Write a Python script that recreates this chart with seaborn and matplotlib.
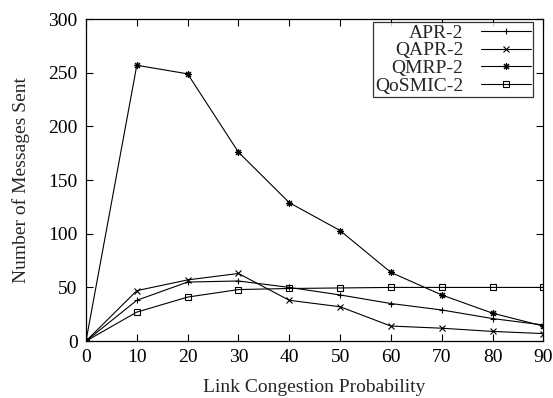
import pandas as pd
import numpy as np
import seaborn as sns
import matplotlib.pyplot as plt

# values
prob = [0, 10, 20, 30, 40, 50, 60, 70, 80, 90]
apr2 = [0, 38, 55, 56, 50, 43, 35, 29, 21, 15]
qapr2 = [0, 47, 57, 63, 38, 32, 14, 12, 9, 7]
qmrp2 = [0, 257, 249, 176, 129, 103, 64, 43, 26, 14]
qosmic2 = [0, 27, 41, 48, 49, 49.5, 50, 50, 50, 50]

names = ['APR-2', 'QAPR-2', 'QMRP-2', 'QoSMIC-2']
series = [apr2, qapr2, qmrp2, qosmic2]
markers = ['+', 'x', (8, 2, 0), 's']
msizes = [5, 4.5, 5, 4]

sns.set_style('ticks')
plt.rcParams['font.family'] = ['Liberation Serif', 'DejaVu Serif']
fs = 14

fig = plt.figure(figsize=(5.53, 3.98), dpi=100)
ax = fig.add_axes([0.1555, 0.143, 0.827, 0.809])

for name, vals, m, ms in zip(names, series, markers, msizes):
    df = pd.DataFrame({'prob': prob, 'msgs': vals})
    sns.lineplot(data=df, x='prob', y='msgs', ax=ax, color='black', lw=0.8,
                 marker=m, markersize=ms, markerfacecolor='none',
                 markeredgecolor='black', markeredgewidth=0.8, label=name)

ax.set_xlim(0, 90)
ax.set_ylim(0, 300)
ax.set_xticks(prob)
ax.set_yticks(np.arange(0, 301, 50))
ax.tick_params(direction='in', length=5, width=0.8, top=True, right=True,
               labelsize=fs, colors='black', pad=6)
for s in ax.spines.values():
    s.set_visible(True)
    s.set_linewidth(0.9)
    s.set_color('black')

ax.set_xlabel('Link Congestion Probability', fontsize=fs, labelpad=9)
ax.set_ylabel('Number of Messages Sent', fontsize=fs, labelpad=13)

leg = ax.legend(loc='upper right', bbox_to_anchor=(0.978, 0.99), markerfirst=False,
                frameon=True, fancybox=False, edgecolor='black', handlelength=2.6,
                borderpad=0.1, labelspacing=0.0, handletextpad=0.9,
                borderaxespad=0.0, fontsize=fs)
leg.get_frame().set_linewidth(0.9)

fig.savefig('out.png', dpi=100)
